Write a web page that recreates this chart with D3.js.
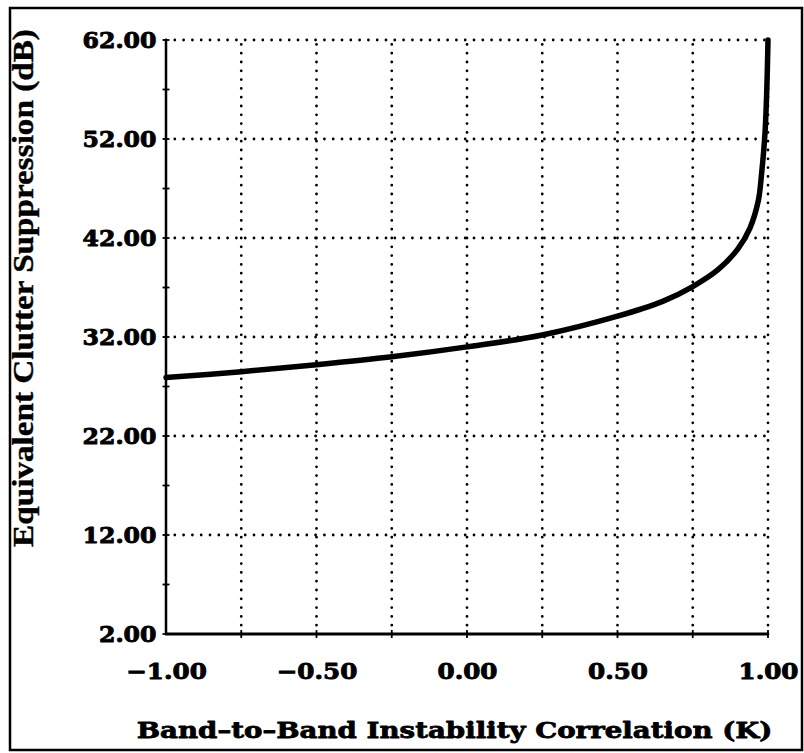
<!DOCTYPE html>
<html>
<head>
<meta charset="utf-8">
<script src="https://cdn.jsdelivr.net/npm/d3@7"></script>
<style>
  body { margin: 0; background: #fff; }
  svg { display: block; }
</style>
</head>
<body>
<script>
// Band-to-band instability correlation K and the resulting equivalent clutter suppression (dB)
const correlationK = [-1.00, -0.75, -0.50, -0.25, 0.00, 0.25, 0.50, 0.65, 0.75, 0.834, 0.90, 0.94, 0.968, 0.979, 0.990, 0.996, 1.00];
const suppressionDb = [27.9, 28.5, 29.2, 30.0, 31.0, 32.2, 34.1, 35.6, 37.1, 38.8, 40.9, 43.0, 45.8, 48.6, 52.6, 57.0, 62.0];

const xTickValues = [-1.00, -0.50, 0.00, 0.50, 1.00];
const xGridValues = [-0.75, -0.50, -0.25, 0.00, 0.25, 0.50, 0.75, 1.00];
const yTickValues = [2, 12, 22, 32, 42, 52, 62];
const yMinorValues = [7, 17, 27, 37, 47, 57];

const xTitle = "Band\u2013to\u2013Band Instability Correlation (K)";
const yTitle = "Equivalent Clutter Suppression (dB)";

const W = 804, H = 753;
const plot = { left: 166, right: 768, top: 40, bottom: 634 };
const tickFont = "'DejaVu Serif', serif";
const ink = "#000";

const x = d3.scaleLinear().domain([-1, 1]).range([plot.left, plot.right]);
const y = d3.scaleLinear().domain([2, 62]).range([plot.bottom, plot.top]);

const svg = d3.select("body").append("svg")
  .attr("width", W).attr("height", H)
  .attr("viewBox", `0 0 ${W} ${H}`);

// outer frame
svg.append("rect")
  .attr("x", 10).attr("y", 8)
  .attr("width", 792).attr("height", 742)
  .attr("fill", "none").attr("stroke", ink).attr("stroke-width", 2.5);

// dotted grid
const grid = svg.append("g")
  .attr("stroke", ink)
  .attr("stroke-width", 2.8)
  .attr("stroke-linecap", "round")
  .attr("stroke-dasharray", "0 8.8");

grid.selectAll("line.h")
  .data(yTickValues.filter(v => v > y.domain()[0]))
  .join("line").attr("class", "h")
  .attr("x1", x(-1)).attr("x2", x(1))
  .attr("y1", d => y(d)).attr("y2", d => y(d));

grid.selectAll("line.v")
  .data(xGridValues)
  .join("line").attr("class", "v")
  .attr("x1", d => x(d)).attr("x2", d => x(d))
  .attr("y1", y(2)).attr("y2", y(62));

// y axis
const yAxis = svg.append("g")
  .attr("transform", `translate(${plot.left},0)`)
  .call(d3.axisLeft(y).tickValues(yTickValues).tickFormat(d3.format(".2f")).tickSize(0).tickPadding(9));
yAxis.select(".domain").remove();

// x axis
const xAxis = svg.append("g")
  .attr("transform", `translate(0,${plot.bottom})`)
  .call(d3.axisBottom(x).tickValues(xTickValues).tickFormat(d3.format(".2f")).tickSize(0));
xAxis.select(".domain").remove();

// axis lines
svg.append("line")
  .attr("x1", plot.left).attr("x2", plot.left)
  .attr("y1", y(62)).attr("y2", y(2))
  .attr("stroke", ink).attr("stroke-width", 2.5);
svg.append("line")
  .attr("x1", x(-1) - 1).attr("x2", x(1))
  .attr("y1", plot.bottom).attr("y2", plot.bottom)
  .attr("stroke", ink).attr("stroke-width", 2.8);

// small ticks crossing the axes
svg.append("g").attr("stroke", ink).attr("stroke-width", 1.8)
  .selectAll("line")
  .data(yTickValues.concat(yMinorValues))
  .join("line")
  .attr("x1", plot.left - 3.5).attr("x2", plot.left + 3.5)
  .attr("y1", d => y(d)).attr("y2", d => y(d));
svg.append("g").attr("stroke", ink).attr("stroke-width", 1.8)
  .selectAll("line")
  .data(xGridValues)
  .join("line")
  .attr("x1", d => x(d)).attr("x2", d => x(d))
  .attr("y1", plot.bottom - 4).attr("y2", plot.bottom + 4);

// heavy bold serif text
function styleText(sel, size, family, weight) {
  sel.attr("font-family", family).attr("font-size", size)
    .attr("font-weight", "bold").attr("fill", ink)
    .attr("stroke", ink).attr("stroke-width", weight)
    .attr("stroke-linejoin", "round");
}
const yLabels = yAxis.selectAll(".tick text");
styleText(yLabels, 22, tickFont, 0.9);
const xLabels = xAxis.selectAll(".tick text");
styleText(xLabels, 22, tickFont, 0.9);

const yLabelWidth = yLabels.filter(d => d === 62).node().getComputedTextLength();
const ySx = 74 / yLabelWidth;
yLabels
  .attr("x", -9.5 / ySx)
  .attr("dy", "0.33em")
  .attr("transform", `scale(${ySx},1)`);

const xLabelWidth = xLabels.filter(d => d === 0.5).node().getComputedTextLength();
const xSx = 60 / xLabelWidth;
xLabels
  .attr("y", 45).attr("dy", 0)
  .attr("transform", `scale(${xSx},1)`);

// curve
const line = d3.line()
  .x((d, i) => x(correlationK[i]))
  .y(d => y(d))
  .curve(d3.curveCatmullRom.alpha(0.5));

svg.append("path")
  .datum(suppressionDb)
  .attr("d", line)
  .attr("fill", "none")
  .attr("stroke", ink)
  .attr("stroke-width", 5.5)
  .attr("stroke-linejoin", "round")
  .attr("stroke-linecap", "round");

// axis titles
const xt = svg.append("text").text(xTitle)
  .attr("text-anchor", "middle");
styleText(xt, 23, tickFont, 0.8);
const xtSx = 636 / xt.node().getComputedTextLength();
xt.attr("transform", `translate(454.5,738) scale(${xtSx},1)`);

const yt = svg.append("text").text(yTitle)
  .attr("text-anchor", "middle");
styleText(yt, 30, "'Liberation Serif', 'Times New Roman', serif", 0.4);
const ytSx = 518 / yt.node().getComputedTextLength();
yt.attr("transform", `translate(33,288) rotate(-90) scale(${ytSx},1)`);
</script>
</body>
</html>
